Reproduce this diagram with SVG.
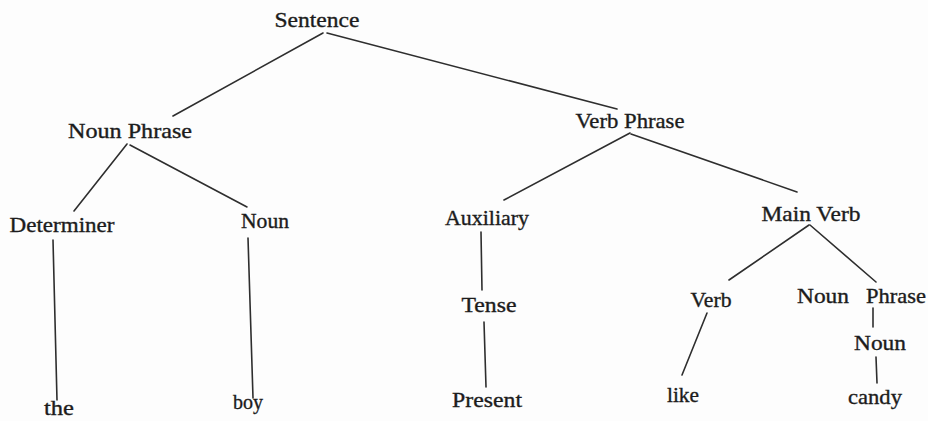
<svg xmlns="http://www.w3.org/2000/svg" width="928" height="421" viewBox="0 0 928 421">
  <style>
    .bg { fill: #fdfdfd; }
    .lbl { font-family: "Liberation Serif", "DejaVu Serif", serif; font-size: 21px; fill: #1c1c1c; stroke: #1c1c1c; stroke-width: 0.35; text-anchor: middle; }
    .lbl.l { text-anchor: start; }
    .edge { stroke: #2e2e2e; stroke-width: 1.6; stroke-linecap: round; fill: none; }
  </style>
  <rect class="bg" x="0" y="0" width="928" height="421"/>

  <!-- tree branches -->
  <g id="connectors">
    <line class="edge" x1="323" y1="33" x2="173" y2="116"/>
    <line class="edge" x1="327" y1="33" x2="617" y2="109"/>
    <line class="edge" x1="127" y1="144" x2="74" y2="211"/>
    <line class="edge" x1="130" y1="145" x2="247" y2="207"/>
    <line class="edge" x1="630" y1="133" x2="504" y2="200"/>
    <line class="edge" x1="631" y1="134" x2="797" y2="192"/>
    <line class="edge" x1="53" y1="240" x2="57" y2="400"/>
    <line class="edge" x1="248" y1="238" x2="253" y2="398"/>
    <line class="edge" x1="481" y1="232" x2="482" y2="290"/>
    <line class="edge" x1="484" y1="322" x2="486" y2="387"/>
    <line class="edge" x1="809" y1="225" x2="729" y2="280"/>
    <line class="edge" x1="810" y1="225" x2="876" y2="282"/>
    <line class="edge" x1="707" y1="313" x2="682" y2="375"/>
    <line class="edge" x1="873" y1="308" x2="873" y2="327"/>
    <line class="edge" x1="876" y1="357" x2="877" y2="383"/>
  </g>

  <!-- nodes -->
  <g id="sentence"><text class="lbl" x="317" y="27" textLength="85" lengthAdjust="spacingAndGlyphs">Sentence</text></g>
  <g id="noun-phrase"><text class="lbl" x="130" y="138" textLength="124" lengthAdjust="spacingAndGlyphs">Noun Phrase</text></g>
  <g id="verb-phrase"><text class="lbl" x="630" y="128" textLength="109" lengthAdjust="spacingAndGlyphs">Verb Phrase</text></g>
  <g id="determiner"><text class="lbl" x="62" y="232" textLength="105" lengthAdjust="spacingAndGlyphs">Determiner</text></g>
  <g id="noun-1"><text class="lbl" x="265" y="228" textLength="48" lengthAdjust="spacingAndGlyphs">Noun</text></g>
  <g id="auxiliary"><text class="lbl" x="487" y="225" textLength="84" lengthAdjust="spacingAndGlyphs">Auxiliary</text></g>
  <g id="main-verb"><text class="lbl" x="811" y="221" textLength="99" lengthAdjust="spacingAndGlyphs">Main Verb</text></g>
  <g id="tense"><text class="lbl" x="489" y="312" textLength="55" lengthAdjust="spacingAndGlyphs">Tense</text></g>
  <g id="verb"><text class="lbl" x="711" y="307" textLength="41" lengthAdjust="spacingAndGlyphs">Verb</text></g>
  <g id="noun-phrase-2">
    <text class="lbl l" y="303"><tspan x="797" textLength="52" lengthAdjust="spacingAndGlyphs">Noun</tspan><tspan x="866" textLength="60" lengthAdjust="spacingAndGlyphs">Phrase</tspan></text>
  </g>
  <g id="noun-2"><text class="lbl" x="880" y="350" textLength="52" lengthAdjust="spacingAndGlyphs">Noun</text></g>
  <g id="the"><text class="lbl" x="59" y="415" textLength="30" lengthAdjust="spacingAndGlyphs">the</text></g>
  <g id="boy"><text class="lbl" x="248" y="409" textLength="30" lengthAdjust="spacingAndGlyphs">boy</text></g>
  <g id="present"><text class="lbl" x="487" y="407" textLength="70" lengthAdjust="spacingAndGlyphs">Present</text></g>
  <g id="like"><text class="lbl" x="683" y="402" textLength="32" lengthAdjust="spacingAndGlyphs">like</text></g>
  <g id="candy"><text class="lbl" x="875" y="404" textLength="54" lengthAdjust="spacingAndGlyphs">candy</text></g>
</svg>
